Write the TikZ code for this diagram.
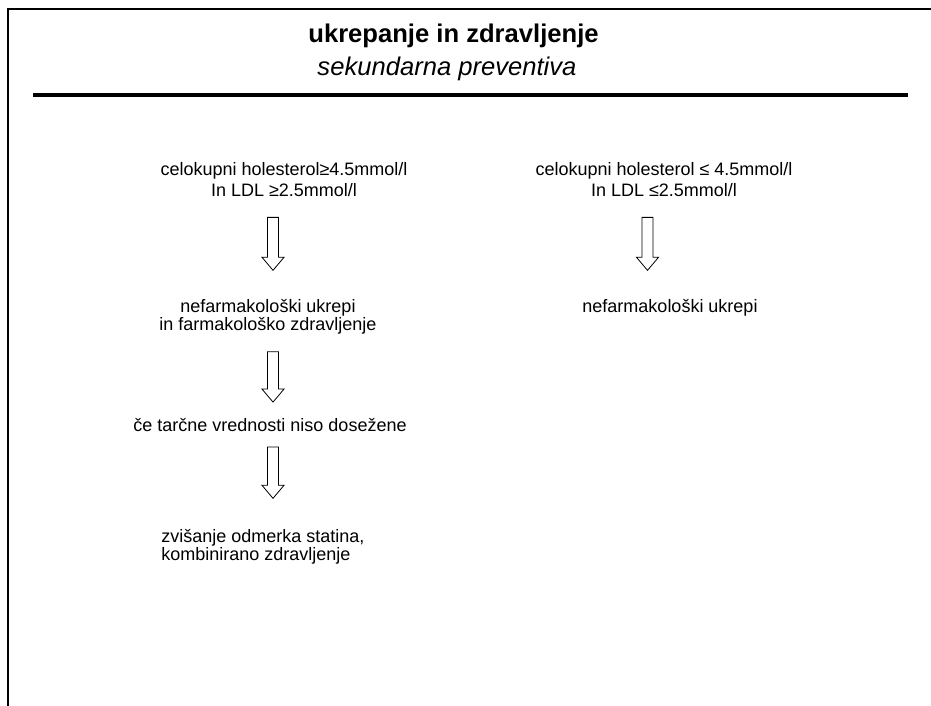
\documentclass[tikz,border=0pt]{standalone}
\usepackage{fontspec}
\setmainfont{Liberation Sans}
\usepackage{tikz}
\usetikzlibrary{calc}

\begin{document}
\begin{tikzpicture}[x=0.75pt, y=-0.75pt,
                    txt/.style={inner sep=0pt, align=center,
                                font=\fontsize{13.5}{13.5}\selectfont},
                    cond/.style={txt, font=\fontsize{13.5}{15.75}\selectfont},
                    hollowarrow/.style={draw=black, line width=0.6pt, fill=white,
                      to path={let \p1=(\tikztostart), \p2=(\tikztotarget) in
                        (\x1-4.1pt,\y1) -- (\x1+4.1pt,\y1) -- (\x1+4.1pt,\y2+9.75pt)
                        -- (\x1+8.25pt,\y2+9.75pt) -- (\x1,\y2)
                        -- (\x1-8.25pt,\y2+9.75pt) -- (\x1-4.1pt,\y2+9.75pt) -- cycle}}]
  \useasboundingbox (0,0) rectangle (931,706);
  \draw[line width=1.5pt] (8,706) -- (8,9) -- (931,9);
  \node[font=\bfseries\fontsize{19.2}{19.2}\selectfont, anchor=base] (title) at (453.5,43) {ukrepanje in zdravljenje};
  \node[font=\itshape\fontsize{19.2}{19.2}\selectfont, anchor=base] (subtitle) at (447,76) {sekundarna preventiva};
  \draw[line width=3pt] (33,95) -- (908,95);
  % left column
  \node[cond] (lhol) at (284,180) {celokupni holesterol≥4.5mmol/l\\In LDL ≥2.5mmol/l};
  \node[txt] (lnef) at (268,317) {nefarmakološki ukrepi\\in farmakološko zdravljenje};
  \node[txt] (unmet) at (270,425) {če tarčne vrednosti niso dosežene};
  \node[txt, align=left, anchor=west] (statin) at (161,547) {zvišanje odmerka statina,\\kombinirano zdravljenje};
  % right column
  \node[cond] (rhol) at (664,180) {celokupni holesterol ≤ 4.5mmol/l\\In LDL ≤2.5mmol/l};
  \node[txt] (rnef) at (670,308) {nefarmakološki ukrepi};
  \draw[hollowarrow] ([shift={(-11,20)}]lhol.south) to ([shift={(0,-29)}]lnef.north);
  \draw[hollowarrow] ([shift={(5,17)}]lnef.south) to ([shift={(0,-16)}]unmet.north);
  \draw[hollowarrow] ([shift={(3,15)}]unmet.south) to ([shift={(0,-31)}]statin.north);
  \draw[hollowarrow] ([shift={(-16.5,20)}]rhol.south) to ([shift={(0,-29)}]rnef.north);
\end{tikzpicture}
\end{document}
